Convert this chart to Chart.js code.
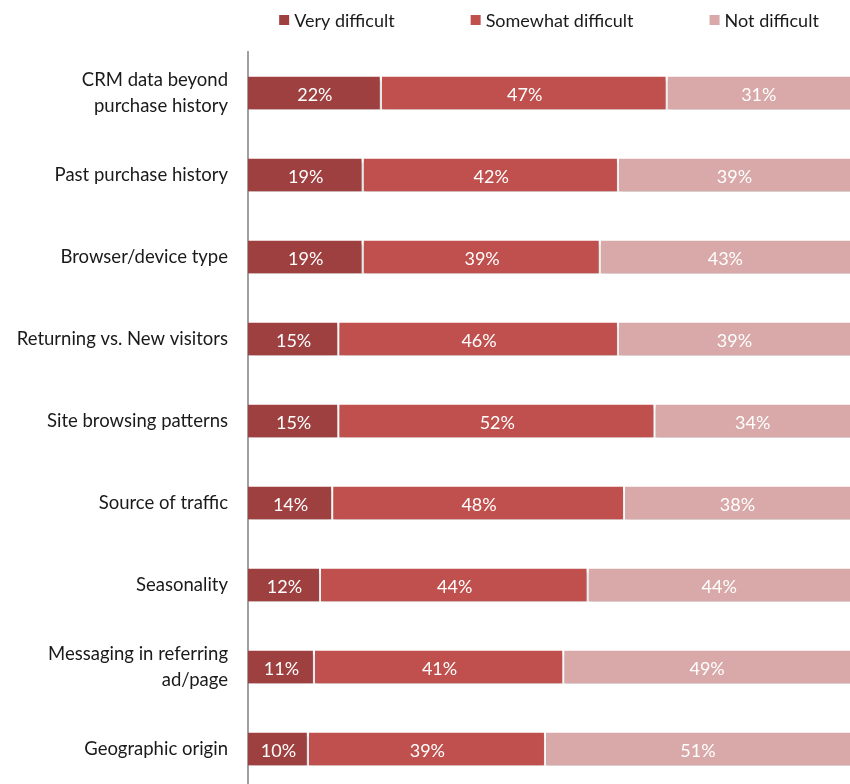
<!DOCTYPE html>
<html>
<head>
<meta charset="utf-8">
<script src="https://cdn.jsdelivr.net/npm/chart.js@4"></script>
<style>
html, body { margin: 0; padding: 0; background: #fff; overflow: hidden; }
#wrap { width: 850px; height: 792px; }
</style>
</head>
<body>
<div id="wrap"><canvas id="chart"></canvas></div>
<script>
var categories = [
    ["CRM data beyond", "purchase history"],
    "Past purchase history",
    "Browser/device type",
    "Returning vs. New visitors",
    "Site browsing patterns",
    "Source of traffic",
    "Seasonality",
    ["Messaging in referring", "ad/page"],
    "Geographic origin"
];
var veryDifficult = [22, 19, 19, 15, 15, 14, 12, 11, 10];
var somewhatDifficult = [47, 42, 39, 46, 52, 48, 44, 41, 39];
var notDifficult = [31, 39, 43, 39, 34, 38, 44, 49, 51];
var seriesNames = ["Very difficult", "Somewhat difficult", "Not difficult"];
var seriesColors = ["#9e4040", "#c0504d", "#d9a9a9"];

var fontFamily = "Lato, 'Open Sans', sans-serif";

// soft shadow under the bars, then white % labels in each segment
var segmentLabels = {
    id: "segmentLabels",
    beforeDatasetsDraw: function(chart) {
        var ctx = chart.ctx;
        ctx.save();
        ctx.shadowColor = "rgba(0,0,0,0.3)";
        ctx.shadowBlur = 3;
        ctx.shadowOffsetY = 3;
    },
    afterDatasetsDraw: function(chart) {
        var ctx = chart.ctx;
        var area = chart.chartArea;
        ctx.restore();
        ctx.save();
        ctx.font = "18px " + fontFamily;
        ctx.fillStyle = "#ffffff";
        ctx.textAlign = "center";
        ctx.textBaseline = "middle";
        chart.data.datasets.forEach(function(ds, i) {
            chart.getDatasetMeta(i).data.forEach(function(bar, j) {
                var right = Math.min(bar.x, area.right);
                ctx.fillText(ds.data[j] + "%", (bar.base + right) / 2, bar.y + 2);
            });
        });
        ctx.restore();
    }
};

// legend drawn by hand, the items sit far apart in the original
var topLegend = {
    id: "topLegend",
    afterDraw: function(chart) {
        var ctx = chart.ctx;
        var area = chart.chartArea;
        var gap = 76, box = 10;
        ctx.save();
        ctx.font = "18px " + fontFamily;
        var widths = chart.data.datasets.map(function(ds) {
            return box + 5 + ctx.measureText(ds.label).width;
        });
        var total = widths.reduce(function(a, b) { return a + b; }, 0) + gap * (widths.length - 1);
        var x = (area.left + area.right) / 2 - total / 2;
        var y = 20;
        ctx.textBaseline = "middle";
        ctx.textAlign = "left";
        chart.data.datasets.forEach(function(ds, i) {
            ctx.fillStyle = ds.backgroundColor;
            ctx.fillRect(x, y - box / 2, box, box);
            ctx.fillStyle = "#1a1a1a";
            ctx.fillText(ds.label, x + box + 5, y + 1);
            x += widths[i] + gap;
        });
        ctx.restore();
    }
};

function makeSet(i, values) {
    return {
        label: seriesNames[i],
        data: values,
        backgroundColor: seriesColors[i],
        borderColor: "#ffffff",
        borderWidth: { right: 2 },
        categoryPercentage: 0.4,
        barPercentage: 1
    };
}

new Chart(document.getElementById("chart").getContext("2d"), {
    type: "bar",
    data: {
        labels: categories,
        datasets: [
            makeSet(0, veryDifficult),
            makeSet(1, somewhatDifficult),
            makeSet(2, notDifficult)
        ]
    },
    options: {
        indexAxis: "y",
        responsive: true,
        maintainAspectRatio: false,
        animation: false,
        layout: { padding: { top: 52, right: 0, bottom: 2, left: 0 } },
        scales: {
            x: {
                stacked: true,
                display: false,
                min: 0,
                max: 99
            },
            y: {
                stacked: true,
                afterFit: function(scale) {
                    scale.width = 248;
                    scale.paddingTop = 0;
                    scale.paddingBottom = 0;
                },
                grid: { display: false, drawTicks: false },
                border: { display: true, color: "#a0a0a0", width: 2 },
                ticks: {
                    padding: 20,
                    color: "#1a1a1a",
                    font: { family: fontFamily, size: 18.5, lineHeight: 1.4 }
                }
            }
        },
        plugins: {
            legend: { display: false },
            tooltip: { enabled: false }
        }
    },
    plugins: [segmentLabels, topLegend]
});
</script>
</body>
</html>
